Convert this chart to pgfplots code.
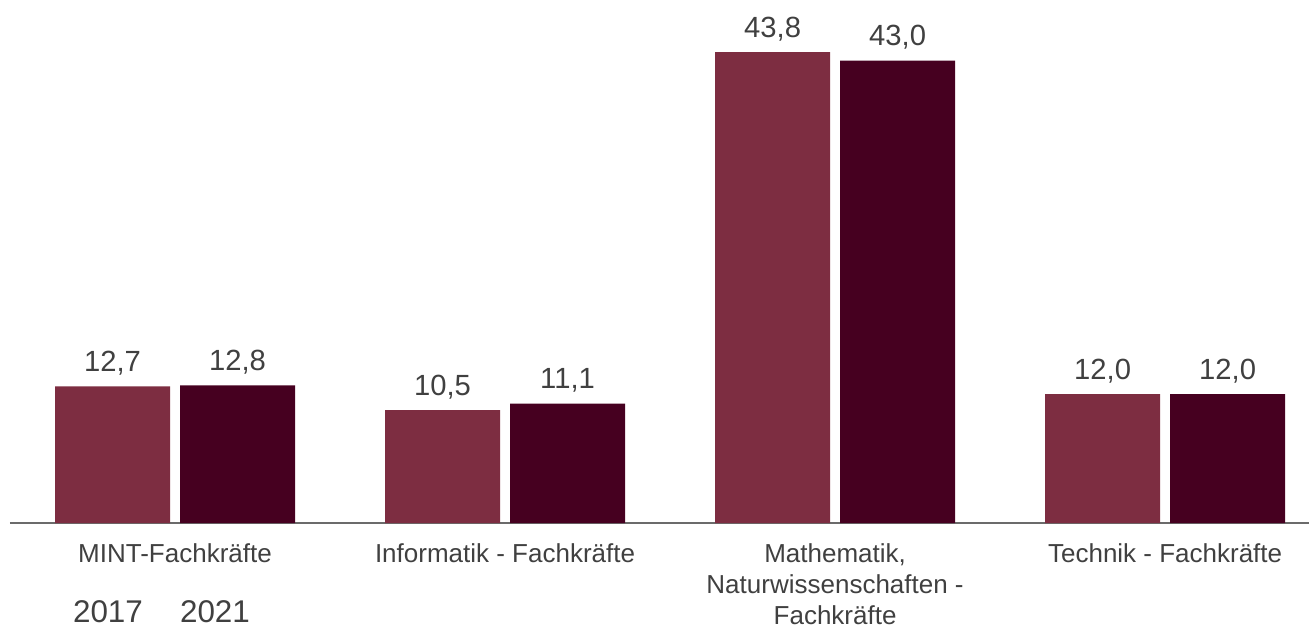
\documentclass[border=0pt]{standalone}
\usepackage{pgfplots}
\pgfplotsset{compat=1.18}
\usepackage{fontspec}
\setmainfont{Liberation Sans}
\definecolor{cA}{HTML}{7D2D41}
\definecolor{cB}{HTML}{460020}
\definecolor{txt}{HTML}{404040}
\definecolor{axl}{HTML}{6B6B6B}
\begin{document}
\begin{tikzpicture}[x=1pt,y=1pt]
\begin{axis}[
  at={(5pt,52.5pt)}, anchor=south west,
  scale only axis=true,
  width=649.5pt, height=261.5pt,
  xmin=-0.5, xmax=3.436,
  ymin=0, ymax=48.65,
  ybar=5pt, bar width=57.5pt,
  axis x line*=bottom, axis y line=none,
  x axis line style={-, draw=axl, line width=1pt},
  xtick={0,1,2,3},
  xticklabels={MINT-Fachkräfte, Informatik - Fachkräfte, {Mathematik,\\Naturwissenschaften -\\Fachkräfte}, Technik - Fachkräfte},
  xticklabel style={font=\fontsize{13}{15.5}\selectfont, text=txt, align=center, yshift=-7pt},
  major tick length=0pt,
  ytick=\empty,
  clip=false,
  nodes near coords,
  nodes near coords style={font=\fontsize{14.6}{17}\selectfont, text=txt, anchor=south, yshift=2pt,
    /pgf/number format/.cd, fixed, fixed zerofill, precision=1, use comma, assume math mode=true},
]
\addplot[fill=cA, draw=none] coordinates {(0,12.7) (1,10.5) (2,43.8) (3,12.0)};
\addplot[fill=cB, draw=none] coordinates {(0,12.8) (1,11.1) (2,43.0) (3,12.0)};
\end{axis}
\node[anchor=base, font=\fontsize{15.7}{18}\selectfont, text=txt] at (54pt,3pt) {2017};
\node[anchor=base, font=\fontsize{15.7}{18}\selectfont, text=txt] at (107.5pt,3pt) {2021};
\pgfresetboundingbox
\path[use as bounding box] (0,0) rectangle (654.5pt,314pt);
\end{tikzpicture}
\end{document}
